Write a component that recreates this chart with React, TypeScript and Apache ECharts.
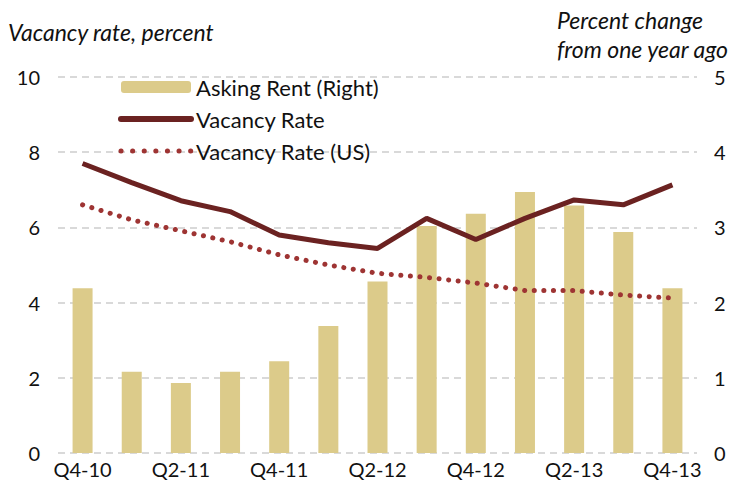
import React, { useEffect, useRef } from "react";
import * as echarts from "echarts";

const categories = ["Q4-10", "Q1-11", "Q2-11", "Q3-11", "Q4-11", "Q1-12", "Q2-12", "Q3-12", "Q4-12", "Q1-13", "Q2-13", "Q3-13", "Q4-13"];
const askingRent = [2.19, 1.08, 0.93, 1.08, 1.22, 1.69, 2.28, 3.02, 3.18, 3.47, 3.29, 2.94, 2.19];
const vacancyRate = [7.7, 7.19, 6.71, 6.42, 5.8, 5.59, 5.44, 6.24, 5.68, 6.24, 6.73, 6.6, 7.13];
const vacancyRateUS = [6.6, 6.2, 5.91, 5.62, 5.27, 5.0, 4.78, 4.67, 4.52, 4.32, 4.32, 4.2, 4.12];

const FONT = "Lato";

export default function App() {
  const ref = useRef<HTMLDivElement>(null);
  useEffect(() => {
    const chart = echarts.init(ref.current!, null, { renderer: "svg" });
    chart.setOption({
      animation: false,
      backgroundColor: "#ffffff",
      textStyle: { fontFamily: FONT },
      graphic: [
        { type: "text", left: 8, top: 20, style: { text: "Vacancy rate, percent", font: `italic 23px ${FONT}`, fill: "#111" } },
        { type: "text", right: 3, top: 5, style: { text: "Percent change\nfrom one year ago", font: `italic 23px ${FONT}`, fill: "#111", align: "right", lineHeight: 29 } },
      ],
      legend: {
        left: 113,
        top: 71,
        orient: "vertical",
        itemWidth: 70,
        itemHeight: 12,
        itemGap: 10,
        textStyle: { fontSize: 22, fontFamily: FONT, color: "#111" },
        data: [
          { name: "Asking Rent (Right)" },
          { name: "Vacancy Rate", itemStyle: { opacity: 0 }, lineStyle: { width: 6, cap: "round", color: "#6B2221" } },
          { name: "Vacancy Rate (US)", itemStyle: { opacity: 0 }, lineStyle: { width: 5, cap: "round", type: [0.1, 11.5], color: "#9E3433" } },
        ],
      },
      grid: { left: 58, right: 35, top: 77, bottom: 42 },
      xAxis: {
        type: "category",
        data: categories,
        axisLine: { show: false },
        axisTick: { show: false },
        axisLabel: { interval: 1, fontSize: 20, color: "#111", margin: 6, fontFamily: FONT },
      },
      yAxis: [
        {
          type: "value",
          min: 0,
          max: 10,
          interval: 2,
          axisLabel: { fontSize: 20, color: "#111", margin: 18, fontFamily: FONT },
          splitLine: { lineStyle: { color: "#d9d9d9", type: [7, 5], width: 2 } },
        },
        {
          type: "value",
          min: 0,
          max: 5,
          interval: 1,
          axisLabel: { fontSize: 20, color: "#111", margin: 17, fontFamily: FONT },
          splitLine: { show: false },
        },
      ],
      series: [
        {
          name: "Asking Rent (Right)",
          type: "bar",
          yAxisIndex: 1,
          data: askingRent,
          barWidth: 20,
          itemStyle: { color: "#DCCB8A" },
        },
        {
          name: "Vacancy Rate",
          type: "line",
          data: vacancyRate,
          symbol: "none",
          lineStyle: { color: "#6B2221", width: 5 },
          itemStyle: { color: "#6B2221" },
        },
        {
          name: "Vacancy Rate (US)",
          type: "line",
          data: vacancyRateUS,
          symbol: "none",
          lineStyle: { color: "#9E3433", width: 5, type: [0.1, 9.5], cap: "round" },
          itemStyle: { color: "#9E3433" },
        },
      ],
    });
    return () => chart.dispose();
  }, []);
  return <div ref={ref} style={{ width: 732, height: 495, position: "absolute", left: 0, top: 0 }} />;
}
